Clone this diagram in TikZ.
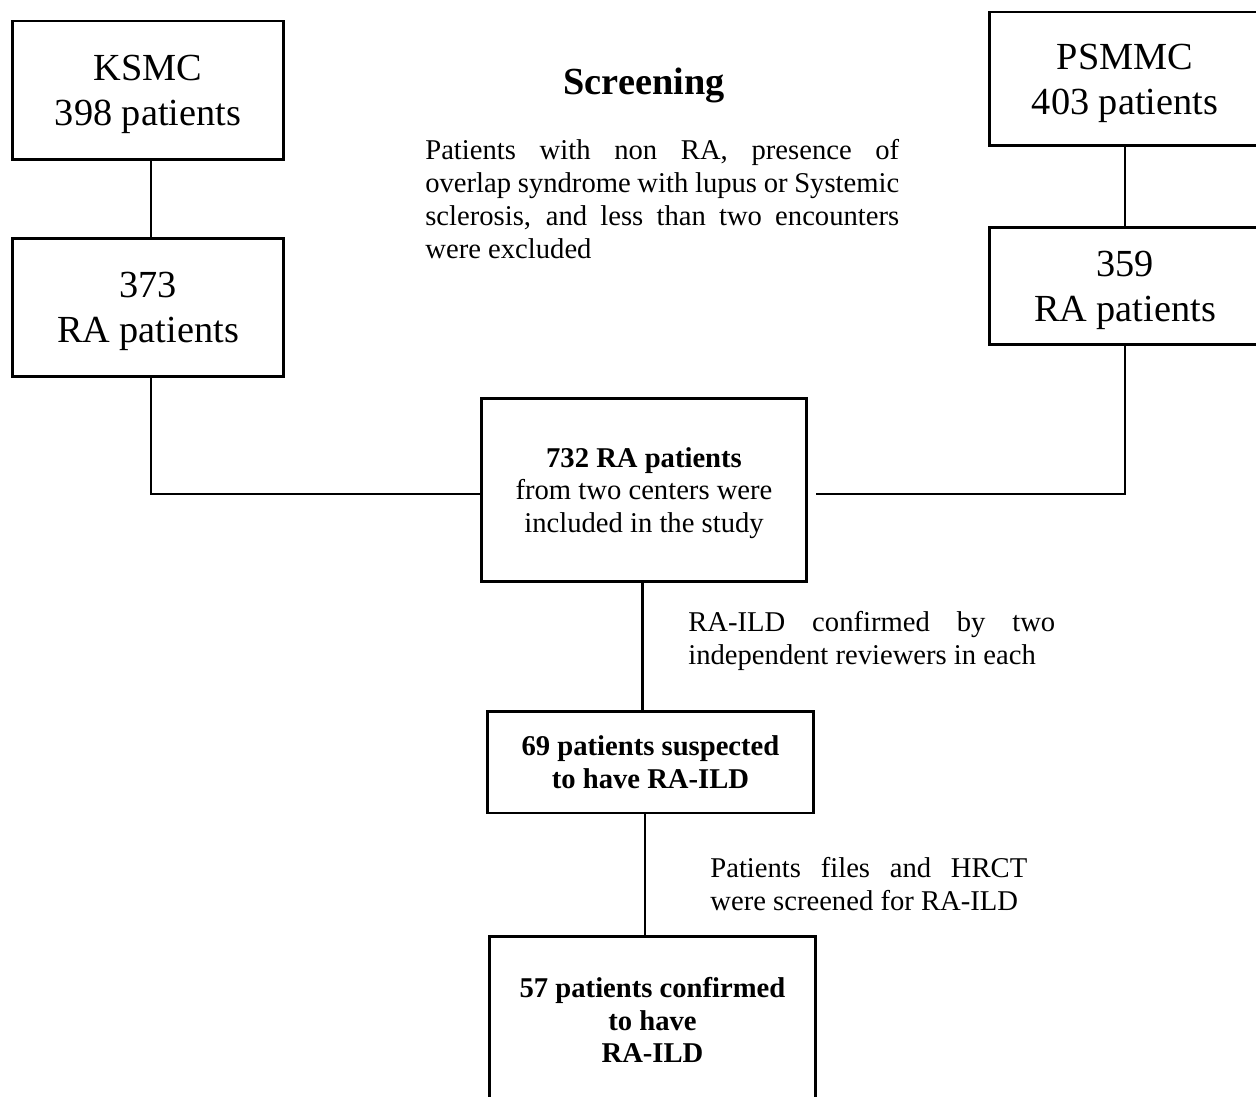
\documentclass[tikz,border=0pt]{standalone}
\usepackage{fontspec}
\setmainfont{Liberation Serif}
\usetikzlibrary{positioning}

\begin{document}
\begin{tikzpicture}[x=0.02cm, y=-0.02cm,
  blk/.style={draw, line width=1.7pt, inner sep=0pt, text depth=0pt, align=center, font=\fontsize{21.8}{25.5}\selectfont},
  sblk/.style={blk, font=\fontsize{16.3}{18.7}\selectfont},
  txt/.style={inner sep=0pt, align=justify, anchor=north west, font=\fontsize{16.3}{18.7}\selectfont},
  lnk/.style={line width=0.85pt}]
\clip (0,0) rectangle (1256,1097);

% centres
\node[blk, minimum width=5.44cm, minimum height=2.78cm] (ksmc) at (148,90.5) {KSMC\\398 patients};
\node[blk, minimum width=5.44cm, minimum height=2.78cm] (ra373) at (148,307.5) {373\\RA patients};
\node[blk, minimum width=5.44cm, minimum height=2.68cm] (psmmc) at (1125,79) {PSMMC\\403 patients};
\node[blk, minimum width=5.44cm, minimum height=2.36cm] (ra359) at (1125,286) {359\\RA patients};
\node[sblk, minimum width=6.52cm, minimum height=3.68cm] (total) at (644,490) {\textbf{732 RA patients}\\from two centers were\\included in the study};
\node[sblk, font=\fontsize{16.3}{18.7}\selectfont\bfseries, minimum width=6.54cm, minimum height=2.04cm] (susp) at (650.5,762) {69 patients suspected\\to have RA-ILD};
\node[sblk, font=\fontsize{16.3}{18.7}\selectfont\bfseries, minimum width=6.54cm, minimum height=3.36cm] (conf) at (652.5,1020) {57 patients confirmed\\to have\\RA-ILD};

% labels
\node[inner sep=0pt, font=\fontsize{21.8}{25.5}\selectfont\bfseries] (scr) at (644,85) {Screening};
\node[txt, text width=9.48cm] (excl) at (425,139) {Patients with non RA, presence of\linebreak overlap syndrome with lupus or Systemic\linebreak sclerosis, and less than two encounters\linebreak were excluded};
\node[txt, text width=7.34cm] (rev) at (688,611) {RA-ILD confirmed by two\linebreak independent reviewers in each};
\node[txt, text width=6.34cm] (hrct) at (710,857) {Patients files and HRCT\linebreak were screened for RA-ILD};

% links
\draw[lnk] ([xshift=1.7pt]ksmc.south) -- ([xshift=1.7pt]ra373.north);
\draw[lnk] (psmmc) -- (ra359);
\draw[lnk] ([xshift=1.7pt]ra373.south) |- ([yshift=-2.3pt]total.west);
\draw[lnk] (ra359.south) |- ([xshift=4pt,yshift=-2.3pt]total.east);
\draw[line width=1.7pt] ([xshift=-1.1pt]total.south) -- ([xshift=-1.1pt]total.south |- susp.north);
\draw[lnk] ([xshift=-3pt]susp.south) -- ([xshift=-3pt]susp.south |- conf.north);
\end{tikzpicture}
\end{document}
